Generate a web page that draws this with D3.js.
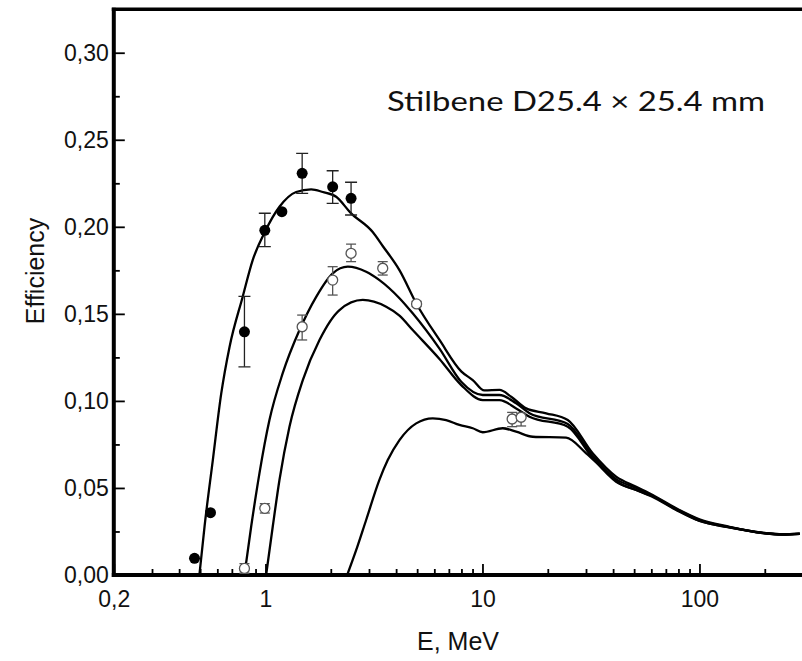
<!DOCTYPE html>
<html>

<head>
    <meta charset="utf-8">
    <title>Stilbene efficiency</title>
    <script src="https://d3js.org/d3.v7.min.js"></script>
</head>
<style>
    body {
        margin: 0;
        background: #fff;
    }

    svg {
        display: block;
    }

    .axis text {
        font-family: "Liberation Sans", Arial, sans-serif;
        font-size: 23px;
        fill: #111;
    }

    .axis line {
        stroke: #000;
        stroke-width: 1.8px;
    }

    .curve {
        fill: none;
        stroke: #000;
        stroke-width: 2.3px;
    }

    .label {
        font-family: "Liberation Sans", Arial, sans-serif;
        font-size: 25px;
        fill: #111;
    }
</style>

<body>
    <svg id="chart"></svg>
    <script>
        // calculated curves, [E in MeV, efficiency]
        var curveA = [[0.496, 0], [0.524, 0.028], [0.572, 0.066], [0.625, 0.104], [0.683, 0.131], [0.786, 0.160],
            [0.874, 0.181], [0.993, 0.197], [1.16, 0.2115], [1.385, 0.220], [1.624, 0.2215], [1.837, 0.220],
            [2.117, 0.2173], [2.47, 0.208], [3.12, 0.197], [3.47, 0.189], [4.15, 0.175], [4.97, 0.1557],
            [6.34, 0.135], [7.98, 0.117], [9.02, 0.112], [10.2, 0.106], [11.98, 0.1063], [13.56, 0.1024],
            [15.9, 0.0957], [19.66, 0.0929], [24.72, 0.089], [32.2, 0.0699], [41.3, 0.0565], [51.1, 0.0507],
            [60.9, 0.046], [78.1, 0.0383], [100, 0.032], [137.5, 0.0277], [195.7, 0.0243], [241.9, 0.0234], [290, 0.0238]];

        var curveB = [[0.80, 0], [0.859, 0.0277], [0.938, 0.0584], [1.043, 0.089], [1.201, 0.1159], [1.435, 0.1407],
            [1.713, 0.1598], [2.042, 0.1733], [2.395, 0.1771], [2.911, 0.1742], [3.352, 0.1694], [4.145, 0.159],
            [4.77, 0.1503], [6.337, 0.130], [7.98, 0.111], [10.03, 0.1034], [11.98, 0.1034], [14.3, 0.0986],
            [16.47, 0.0929], [24.72, 0.0867], [32.2, 0.0684], [41.3, 0.0551], [51.1, 0.050], [60.9, 0.0454],
            [78.1, 0.0379], [100, 0.0316], [137.5, 0.0275], [195.7, 0.0242], [241.9, 0.0233], [290, 0.0237]];

        var curveC = [[1.007, 0], [1.08, 0.0277], [1.16, 0.0546], [1.29, 0.0852], [1.486, 0.112], [1.774, 0.135],
            [2.193, 0.1522], [2.808, 0.158], [3.6, 0.1541], [4.145, 0.149], [4.77, 0.1407], [6.337, 0.1241],
            [7.98, 0.1091], [10.03, 0.1005], [11.98, 0.1005], [14.3, 0.0957], [16.47, 0.0909], [24.72, 0.0852],
            [32.2, 0.0672], [41.3, 0.0536], [51.1, 0.0488], [60.9, 0.0448], [78.1, 0.0373], [100, 0.031],
            [137.5, 0.0273], [195.7, 0.0241], [241.9, 0.0232], [290, 0.0236]];

        var curveD = [[2.38, 0], [2.62, 0.0144], [2.91, 0.0316], [3.35, 0.0546], [3.66, 0.066], [4.145, 0.0775],
            [4.95, 0.0871], [5.9, 0.090], [6.8, 0.089], [7.83, 0.0862], [9.02, 0.0843], [10.03, 0.082],
            [12.4, 0.0843], [14.3, 0.0823], [17.06, 0.0794], [24.3, 0.0789], [30.06, 0.0699], [37.2, 0.0593],
            [42.8, 0.0527], [51.1, 0.0488], [60.9, 0.0452], [78.1, 0.0377], [100, 0.0312], [137.5, 0.0274],
            [195.7, 0.0241], [241.9, 0.0232], [290, 0.0236]];

        // measured points (filled)
        var filledE = [0.471, 0.558, 0.80, 0.993, 1.19, 1.476, 2.04, 2.48];
        var filledEff = [0.0096, 0.0358, 0.1397, 0.198, 0.2087, 0.2307, 0.223, 0.2164];
        var filledLo = [null, null, 0.1196, 0.1886, null, 0.2192, 0.2135, 0.2068];
        var filledHi = [null, null, 0.160, 0.2078, null, 0.2422, 0.2322, 0.2256];

        // measured points (open)
        var openE = [0.80, 0.993, 1.476, 2.04, 2.48, 3.47, 4.97, 13.7, 15.07];
        var openEff = [0.0038, 0.0383, 0.1426, 0.1694, 0.1848, 0.1762, 0.1557, 0.0896, 0.0906];
        var openLo = [0.001, 0.0356, 0.135, 0.1608, 0.180, 0.1723, 0.1542, 0.0852, 0.0856];
        var openHi = [0.0065, 0.041, 0.1493, 0.1771, 0.1901, 0.180, 0.1572, 0.0934, 0.0929];

        var xMajor = [0.2, 1, 10, 100];
        var xMinor = [0.3, 0.4, 0.5, 0.6, 0.7, 0.8, 0.9, 2, 3, 4, 5, 6, 7, 8, 9, 20, 30, 40, 50, 60, 70, 80, 90, 200];
        var yMajor = [0, 0.05, 0.10, 0.15, 0.20, 0.25, 0.30];
        var yMinor = [0.025, 0.075, 0.125, 0.175, 0.225, 0.275];

        var W = 802, H = 661;
        var plotLeft = 113.8, plotRight = 799.8, plotTop = 9.2, plotBottom = 575;

        var svg = d3.select("#chart").attr("width", W).attr("height", H);

        var x = d3.scaleLog().domain([0.2, 290]).range([plotLeft, plotRight]);
        var y = d3.scaleLinear().domain([0, 0.325]).range([plotBottom, plotTop]);

        svg.append("defs").append("clipPath").attr("id", "plot")
            .append("rect").attr("x", plotLeft).attr("y", plotTop)
            .attr("width", W - plotLeft).attr("height", plotBottom - plotTop);

        // X axis, ticks inside
        svg.append("g").attr("class", "axis")
            .attr("transform", "translate(0," + plotBottom + ")")
            .call(d3.axisBottom(x).tickValues(xMajor).tickSize(-11).tickPadding(16)
                .tickFormat(d => String(d).replace(".", ",")))
            .call(g => g.select(".domain").remove());
        svg.append("g").attr("class", "axis")
            .attr("transform", "translate(0," + plotBottom + ")")
            .call(d3.axisBottom(x).tickValues(xMinor).tickSize(-6).tickFormat(""))
            .call(g => g.select(".domain").remove());

        // Y axis
        svg.append("g").attr("class", "axis")
            .attr("transform", "translate(" + plotLeft + ",0)")
            .call(d3.axisLeft(y).tickValues(yMajor).tickSize(-11).tickPadding(5)
                .tickFormat(d => d3.format(".2f")(d).replace(".", ",")))
            .call(g => g.select(".domain").remove());
        svg.append("g").attr("class", "axis")
            .attr("transform", "translate(" + plotLeft + ",0)")
            .call(d3.axisLeft(y).tickValues(yMinor).tickSize(-6).tickFormat(""))
            .call(g => g.select(".domain").remove());

        // frame
        svg.append("line").attr("x1", plotLeft).attr("x2", plotLeft).attr("y1", plotTop - 1.5).attr("y2", plotBottom + 2)
            .attr("stroke", "#000").attr("stroke-width", 4);
        svg.append("line").attr("x1", plotLeft - 2).attr("x2", W + 2).attr("y1", plotBottom).attr("y2", plotBottom)
            .attr("stroke", "#000").attr("stroke-width", 4);
        svg.append("line").attr("x1", plotLeft - 2).attr("x2", W + 2).attr("y1", plotTop).attr("y2", plotTop)
            .attr("stroke", "#000").attr("stroke-width", 3.5);

        var plot = svg.append("g").attr("clip-path", "url(#plot)");

        var line = d3.line()
            .x(d => x(d[0]))
            .y(d => y(d[1]))
            .curve(d3.curveMonotoneX);

        [curveA, curveB, curveC, curveD].forEach(function(c) {
            plot.append("path").datum(c).attr("class", "curve").attr("d", line);
        });

        // error bars
        function errorBars(E, lo, hi, color, cap) {
            var idx = d3.range(E.length).filter(i => lo[i] !== null);
            var g = plot.append("g").attr("stroke", color).attr("stroke-width", 1.3).attr("fill", "none");
            g.selectAll(".eb").data(idx).enter().append("line")
                .attr("x1", i => x(E[i])).attr("x2", i => x(E[i]))
                .attr("y1", i => y(lo[i])).attr("y2", i => y(hi[i]));
            g.selectAll(".lo").data(idx).enter().append("line")
                .attr("x1", i => x(E[i]) - cap).attr("x2", i => x(E[i]) + cap)
                .attr("y1", i => y(lo[i])).attr("y2", i => y(lo[i]));
            g.selectAll(".hi").data(idx).enter().append("line")
                .attr("x1", i => x(E[i]) - cap).attr("x2", i => x(E[i]) + cap)
                .attr("y1", i => y(hi[i])).attr("y2", i => y(hi[i]));
        }

        errorBars(filledE, filledLo, filledHi, "#222", 6);
        errorBars(openE, openLo, openHi, "#555", 5);

        plot.append("g").selectAll("circle").data(d3.range(openE.length)).enter().append("circle")
            .attr("cx", i => x(openE[i])).attr("cy", i => y(openEff[i])).attr("r", 5)
            .attr("fill", "#fff").attr("stroke", "#555").attr("stroke-width", 1.3);

        plot.append("g").selectAll("circle").data(d3.range(filledE.length)).enter().append("circle")
            .attr("cx", i => x(filledE[i])).attr("cy", i => y(filledEff[i])).attr("r", 5.5)
            .attr("fill", "#000");

        // labels
        svg.append("text").attr("class", "label")
            .attr("transform", "translate(44,271) rotate(-90)")
            .attr("text-anchor", "middle")
            .text("Efficiency");

        svg.append("text").attr("class", "label")
            .attr("x", 458).attr("y", 650)
            .attr("text-anchor", "middle")
            .text("E, MeV");

        svg.append("text")
            .attr("x", 387).attr("y", 111)
            .attr("textLength", 378).attr("lengthAdjust", "spacingAndGlyphs")
            .style("font-family", "Lato, 'Open Sans', sans-serif")
            .style("font-size", "27px")
            .style("fill", "#111")
            .text("Stilbene D25.4 × 25.4 mm");
    </script>

</body>

</html>
